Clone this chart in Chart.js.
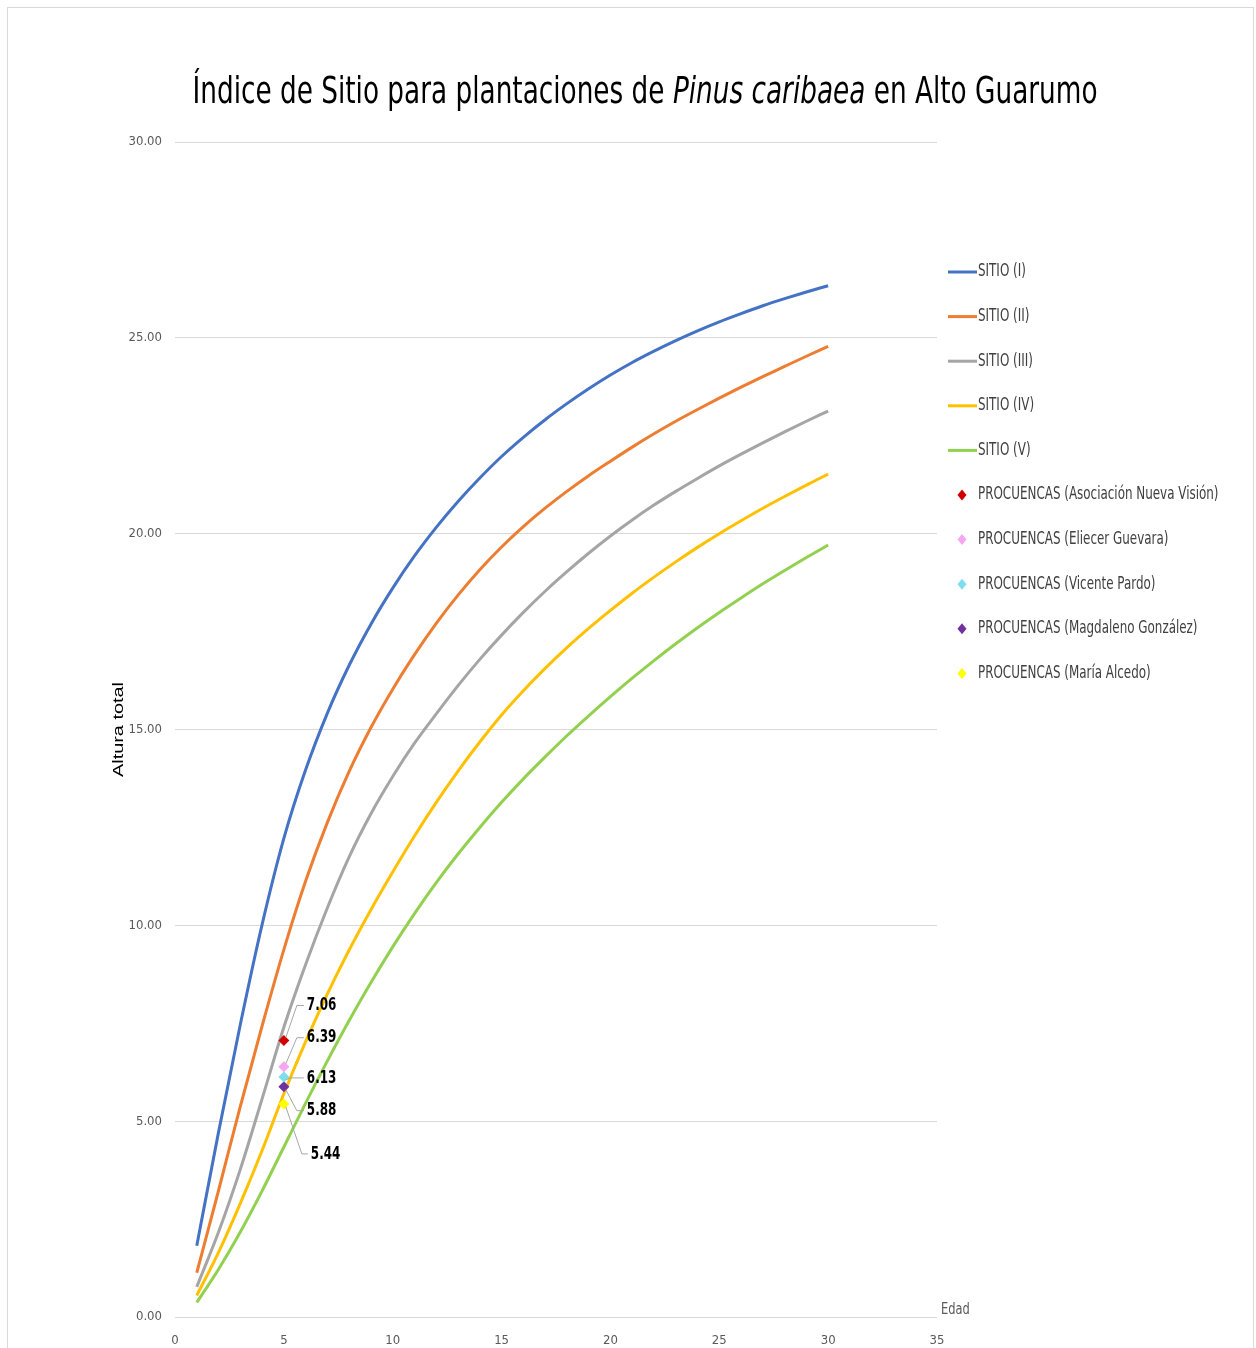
<!DOCTYPE html>
<html>
<head>
<meta charset="utf-8">
<title>Índice de Sitio - Pinus caribaea</title>
<script src="https://cdn.jsdelivr.net/npm/chart.js@4.4.1/dist/chart.umd.min.js"></script>
<style>
    html, body { margin: 0; padding: 0; background: #ffffff; }
    #wrap { position: relative; width: 1256px; height: 1348px; overflow: hidden; }
    canvas { display: block; }
</style>
</head>
<body>
<div id="wrap">
    <canvas id="siteChart" width="1256" height="1348"></canvas>
</div>
<script>

// ---- data ----

const AGES = [1, 2, 3, 4, 5, 6, 7, 8, 9, 10, 11, 12, 13, 14, 15, 16, 17, 18, 19, 20, 21, 22, 23, 24, 25, 26, 27, 28, 29, 30];

const SITIO_I = [1.82, 4.72, 7.47, 10.02, 12.22, 13.97, 15.42, 16.64, 17.69, 18.61, 19.43, 20.16, 20.82, 21.42, 21.97, 22.46, 22.91, 23.32, 23.70, 24.05, 24.37, 24.66, 24.93, 25.18, 25.41, 25.62, 25.82, 26.00, 26.17, 26.33];

const SITIO_II = [1.13, 3.23, 5.38, 7.43, 9.38, 11.13, 12.63, 13.93, 15.05, 16.03, 16.91, 17.71, 18.43, 19.08, 19.66, 20.18, 20.65, 21.08, 21.48, 21.85, 22.21, 22.55, 22.87, 23.17, 23.46, 23.74, 24.01, 24.27, 24.53, 24.78];

const SITIO_III = [0.77, 2.17, 3.77, 5.57, 7.40, 9.00, 10.45, 11.75, 12.85, 13.80, 14.65, 15.40, 16.12, 16.79, 17.41, 17.99, 18.53, 19.03, 19.50, 19.94, 20.35, 20.73, 21.08, 21.41, 21.73, 22.03, 22.32, 22.60, 22.87, 23.13];

const SITIO_IV = [0.55, 1.65, 2.90, 4.25, 5.70, 7.03, 8.25, 9.37, 10.40, 11.36, 12.28, 13.14, 13.94, 14.68, 15.37, 15.99, 16.56, 17.09, 17.58, 18.04, 18.48, 18.89, 19.28, 19.65, 20.00, 20.33, 20.65, 20.95, 21.24, 21.52];

const SITIO_V = [0.37, 1.22, 2.17, 3.22, 4.34, 5.46, 6.54, 7.57, 8.54, 9.45, 10.30, 11.09, 11.82, 12.50, 13.14, 13.74, 14.30, 14.84, 15.35, 15.84, 16.31, 16.76, 17.19, 17.60, 17.99, 18.36, 18.72, 19.06, 19.39, 19.71];

const SITIO_LABELS = ["SITIO (I)", "SITIO (II)", "SITIO (III)", "SITIO (IV)", "SITIO (V)"];

const PLOT_AGE = 5;

const PLOT_NAMES = [
    "PROCUENCAS (Asociación Nueva Visión)",
    "PROCUENCAS (Eliecer Guevara)",
    "PROCUENCAS (Vicente Pardo)",
    "PROCUENCAS (Magdaleno González)",
    "PROCUENCAS (María Alcedo)"
];

const PLOT_HEIGHTS = [7.06, 6.39, 6.13, 5.88, 5.44];

const X_TICKS = [0, 5, 10, 15, 20, 25, 30, 35];

const Y_TICKS = [0, 5, 10, 15, 20, 25, 30];

const TITLE_PARTS = [
    { text: "Índice de Sitio para plantaciones de ", italic: false },
    { text: "Pinus caribaea", italic: true },
    { text: " en Alto Guarumo", italic: false }
];

// ---- styling ----

const FONT = '"Liberation Sans Narrow", "DejaVu Sans Condensed", "Open Sans", sans-serif';

const LINE_COLORS = ["#4472C4", "#ED7D31", "#A5A5A5", "#FFC000", "#92D050"];

const POINT_COLORS = ["#D00000", "#F7A6F2", "#7FDDEE", "#7030A0", "#FFFF00"];

// the reference text is narrower than any installed face, so squeeze it
const SQUEEZE = 0.78;

// label offset from its marker: dy of the label, elbow x and end x of the leader
const LABEL_LAYOUT = [
    { dy: -35, elbow: 13, end: 20 },
    { dy: -29, elbow: 13, end: 20 },
    { dy: 1, elbow: 6, end: 20 },
    { dy: 24, elbow: 13, end: 20 },
    { dy: 50, elbow: 18, end: 24 }
];

function squeezedText(ctx, text, x, y, factor) {

    ctx.save();
    ctx.translate(x, y);
    ctx.scale(factor, 1);
    ctx.fillText(text, 0, 0);
    ctx.restore();

    return ctx.measureText(text).width * factor;

}

function buildDatasets() {

    const sitios = [SITIO_I, SITIO_II, SITIO_III, SITIO_IV, SITIO_V];

    const datasets = sitios.map((values, i) => ({

        type: "line",
        label: SITIO_LABELS[i],
        data: AGES.map((age, j) => ({ x: age, y: values[j] })),
        borderColor: LINE_COLORS[i],
        backgroundColor: LINE_COLORS[i],
        borderWidth: 3,
        pointRadius: 0,
        cubicInterpolationMode: "monotone",
        order: 2

    }));

    PLOT_NAMES.forEach((name, i) => {

        datasets.push({

            type: "scatter",
            label: name,
            data: [{ x: PLOT_AGE, y: PLOT_HEIGHTS[i] }],
            pointStyle: "rectRot",
            pointRadius: 5.5,
            borderWidth: 0,
            borderColor: POINT_COLORS[i],
            backgroundColor: POINT_COLORS[i],
            order: 1

        });

    });

    return datasets;

}

// frame, title, legend, axis captions
const decorPlugin = {

    id: "decor",

    afterDraw(chart) {

        const ctx = chart.ctx;
        const area = chart.chartArea;

        ctx.save();

        // outer frame
        ctx.strokeStyle = "#D9D9D9";
        ctx.lineWidth = 1;
        ctx.strokeRect(7.5, 7.5, 1246, 1400);

        // title with italic species name, fitted to the reference width
        const size = 38;
        const fontFor = part => (part.italic ? "italic " : "") + size + "px " + FONT;

        let total = 0;
        TITLE_PARTS.forEach(part => {
            ctx.font = fontFor(part);
            total += ctx.measureText(part.text).width;
        });

        const titleFactor = 905 / total;
        let x = 645 - 905 / 2;
        ctx.fillStyle = "#000000";
        ctx.textBaseline = "alphabetic";
        ctx.textAlign = "left";
        TITLE_PARTS.forEach(part => {
            ctx.font = fontFor(part);
            x += squeezedText(ctx, part.text, x, 103, titleFactor);
        });

        // legend
        const legendX = 948;
        let legendY = 272;
        ctx.font = "17px " + FONT;
        ctx.textBaseline = "middle";

        chart.data.datasets.forEach(ds => {

            if (ds.type === "line") {
                ctx.strokeStyle = ds.borderColor;
                ctx.lineWidth = 3;
                ctx.beginPath();
                ctx.moveTo(legendX, legendY);
                ctx.lineTo(legendX + 29, legendY);
                ctx.stroke();
            } else {
                ctx.fillStyle = ds.backgroundColor;
                ctx.beginPath();
                ctx.moveTo(legendX + 14, legendY - 5.5);
                ctx.lineTo(legendX + 18.5, legendY);
                ctx.lineTo(legendX + 14, legendY + 5.5);
                ctx.lineTo(legendX + 9.5, legendY);
                ctx.closePath();
                ctx.fill();
            }

            ctx.fillStyle = "#404040";
            squeezedText(ctx, ds.label, legendX + 30, legendY, SQUEEZE);
            legendY += 44.6;

        });

        // x axis caption at the right end of the axis
        ctx.font = "15px " + FONT;
        ctx.fillStyle = "#595959";
        squeezedText(ctx, "Edad", area.right + 4, area.bottom - 7, 0.85);

        // y axis caption, rotated
        ctx.font = "14px Liberation Sans, Arial, sans-serif";
        ctx.fillStyle = "#000000";
        ctx.textAlign = "center";
        const yMid = (area.top + area.bottom) / 2;
        const stretch = 95 / ctx.measureText("Altura total").width;
        ctx.save();
        ctx.translate(119, yMid);
        ctx.rotate(-Math.PI / 2);
        ctx.scale(stretch, 1);
        ctx.fillText("Altura total", 0, 0);
        ctx.restore();

        ctx.restore();

    }

};

// value labels with leader lines for the plot markers
const plotLabelPlugin = {

    id: "plotLabels",

    afterDatasetsDraw(chart) {

        const ctx = chart.ctx;
        ctx.save();
        ctx.font = "bold 18px " + FONT;
        ctx.textBaseline = "middle";
        ctx.textAlign = "left";

        chart.data.datasets.forEach((ds, i) => {

            if (ds.type !== "scatter")
                return;

            const k = PLOT_NAMES.indexOf(ds.label);
            const point = chart.getDatasetMeta(i).data[0];
            const lay = LABEL_LAYOUT[k];
            const ly = point.y + lay.dy;

            ctx.strokeStyle = "#A6A6A6";
            ctx.lineWidth = 1;
            ctx.beginPath();
            ctx.moveTo(point.x + 2, point.y + Math.sign(lay.dy) * 3);
            ctx.lineTo(point.x + lay.elbow, ly);
            ctx.lineTo(point.x + lay.end, ly);
            ctx.stroke();

            ctx.fillStyle = "#000000";
            squeezedText(ctx, PLOT_HEIGHTS[k].toFixed(2), point.x + lay.end + 3, ly, 0.74);

        });

        ctx.restore();

    }

};

const ctx = document.getElementById("siteChart").getContext("2d");

new Chart(ctx, {

    type: "line",

    data: {
        datasets: buildDatasets()
    },

    options: {

        responsive: false,
        devicePixelRatio: 1,
        animation: false,

        layout: {
            padding: { top: 142, right: 319, bottom: 0, left: 111 }
        },

        plugins: {
            legend: { display: false },
            title: { display: false },
            tooltip: { enabled: false }
        },

        scales: {

            x: {
                type: "linear",
                min: X_TICKS[0],
                max: X_TICKS[X_TICKS.length - 1],
                afterBuildTicks: scale => {
                    scale.ticks = X_TICKS.map(v => ({ value: v }));
                },
                afterFit: scale => {
                    scale.height = 31;
                },
                grid: { display: false, drawTicks: false },
                border: { display: false },
                ticks: {
                    padding: 16,
                    color: "#595959",
                    font: { family: FONT, size: 13 }
                }
            },

            y: {
                type: "linear",
                min: Y_TICKS[0],
                max: Y_TICKS[Y_TICKS.length - 1],
                afterBuildTicks: scale => {
                    scale.ticks = Y_TICKS.map(v => ({ value: v }));
                },
                afterFit: scale => {
                    scale.width = 64;
                },
                grid: { color: "#D9D9D9", lineWidth: 1, drawTicks: false },
                border: { display: false },
                ticks: {
                    padding: 13,
                    color: "#595959",
                    font: { family: FONT, size: 13 },
                    callback: v => v.toFixed(2)
                }
            }

        }

    },

    plugins: [plotLabelPlugin, decorPlugin]

});

</script>
</body>
</html>
